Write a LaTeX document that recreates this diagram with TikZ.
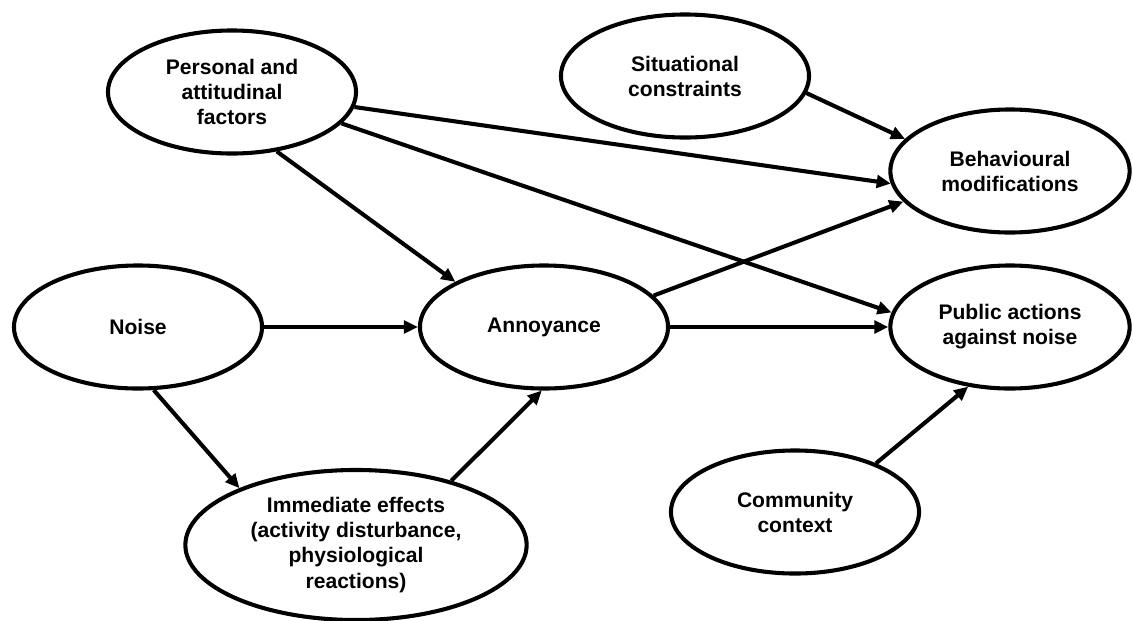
\documentclass[tikz,border=0pt]{standalone}
\usepackage{fontspec}
\setmainfont{Liberation Sans}
\usetikzlibrary{shapes.geometric,arrows.meta}
\tikzset{
    factor/.style={draw,ellipse,line width=2.9pt,inner sep=0pt,align=center,
        font=\bfseries\fontsize{15}{17.8}\selectfont,
        minimum width=6.2cm,minimum height=3.075cm},
    link/.style={line width=2.9pt,-{Triangle[length=10pt,width=9pt]}}
}
\begin{document}
\begin{tikzpicture}[x=0.025cm,y=-0.025cm]
    \useasboundingbox (0,0) rectangle (1133,620);
    %% factors
    \node[factor] (pers) at (232,92) {Personal and\\attitudinal\\factors};
    \node[factor] (sit) at (685,76) {Situational\\constraints};
    \node[factor,minimum width=5.98cm] (beh) at (1010,171) {Behavioural\\modifications};
    \node[factor] (noise) at (138,327) {Noise};
    \node[factor] (ann) at (544,327) {Annoyance};
    \node[factor,minimum width=5.98cm] (pub) at (1010,327) {Public actions\\against noise};
    \node[factor,minimum width=8.53cm,minimum height=3.75cm] (imm) at (356,545) {Immediate effects\\(activity disturbance,\\physiological\\reactions)};
    \node[factor] (comm) at (795,512) {Community\\context};
    %% links
    \draw[link] (pers.-53) -- (ann.153);
    \draw[link] (pers.-7) -- (beh.186.5);
    \draw[link] (pers.-16) -- (pub.173);
    \draw[link] (sit.-8) -- (beh.163);
    \draw[link] (noise.east) -- (ann.west);
    \draw[link] (ann.16) -- (beh.196);
    \draw[link] (ann.east) -- (pub.west);
    \draw[link] (noise.-76) -- (imm.154);
    \draw[link] (imm.34) -- (ann.268);
    \draw[link] (comm.31) -- (pub.235);
\end{tikzpicture}
\end{document}
